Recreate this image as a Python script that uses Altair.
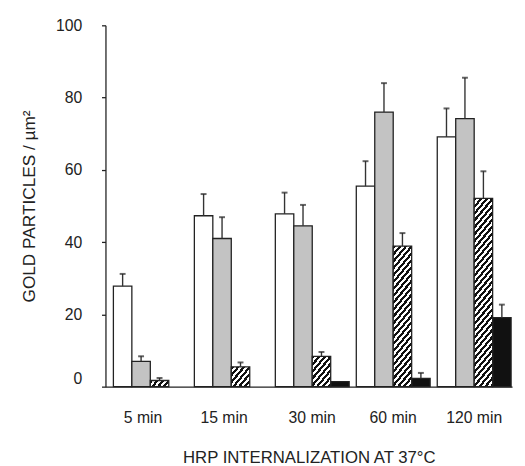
import math
import altair as alt
import pandas as pd

# ---------------- data ----------------
groups = ["5 min", "15 min", "30 min", "60 min", "120 min"]
series = ["open", "grey", "hatched", "solid"]

open_vals = [27.8, 47.3, 47.8, 55.5, 69.1]
open_err = [3.4, 6.0, 5.9, 6.9, 7.9]
grey_vals = [7.0, 41.0, 44.5, 76.0, 74.2]
grey_err = [1.4, 5.9, 5.8, 8.0, 11.3]
hatched_vals = [1.7, 5.5, 8.4, 38.9, 52.1]
hatched_err = [0.7, 1.2, 1.2, 3.6, 7.5]
solid_vals = [None, None, 1.4, 2.3, 19.1]
solid_err = [None, None, None, 1.5, 3.6]

y_ticks = [0, 20, 40, 60, 80, 100]

# ---------------- table ----------------
vals = {"open": open_vals, "grey": grey_vals, "hatched": hatched_vals, "solid": solid_vals}
errs = {"open": open_err, "grey": grey_err, "hatched": hatched_err, "solid": solid_err}
rows = []
for s in series:
    for g, v, e in zip(groups, vals[s], errs[s]):
        if v is not None:
            rows.append({"group": g, "series": s, "value": v, "err": e})
df = pd.DataFrame(rows)

# ---------------- styling ----------------
W, H = 413, 367
FONT = "Liberation Sans"
INK = "#222222"
fills = ["#ffffff", "#c3c3c3", "#ffffff", "#111111"]

P_INNER, P_OUTER, ALIGN = 0.088, 0.055, 0.89
step = W / (len(groups) - P_INNER + 2 * P_OUTER)
slot = step * (1 - P_INNER) / len(series)

# groups without a solid bar: centre their label on the three bars drawn
short_groups = [g for g, v in zip(groups, solid_vals) if v is None]
short_test = "indexof(" + str(short_groups).replace('"', "'") + ", datum.value) >= 0"


def hatch_fill(v, slope=1.2, period=7.0, dark=0.5):
    w = slot
    h = v * H / 100.0
    L = slope * w + h
    c = L / ((slope * w) ** 2 + h ** 2)
    stops = []
    k = 0
    p = period / L
    while k * p < 1:
        o0 = k * p
        o1 = min(1.0, o0 + dark * p)
        o2 = min(1.0, o0 + p)
        stops += [
            {"offset": o0, "color": "#111111"},
            {"offset": o1, "color": "#111111"},
            {"offset": o1, "color": "#ffffff"},
            {"offset": o2, "color": "#ffffff"},
        ]
        k += 1
    return {"gradient": "linear", "x1": 0, "y1": 0, "x2": c * slope * w, "y2": c * h, "stops": stops}


x_scale = alt.Scale(domain=groups, paddingInner=P_INNER, paddingOuter=P_OUTER, align=ALIGN)
off_scale = alt.Scale(domain=series, paddingInner=0, paddingOuter=0)
y_scale = alt.Scale(domain=[0, 100], nice=False, zero=True)

x_axis = alt.Axis(
    ticks=False, tickSize=0, domainColor=INK, domainWidth=1.3,
    labelFont=FONT, labelFontSize=16, labelColor=INK, labelPadding=23, labelAngle=0,
    labelOffset={"condition": {"test": short_test, "value": -slot / 2 + 2}, "value": 0},
    titleFont=FONT, titleFontSize=17, titleFontWeight="normal", titleColor=INK, titlePadding=25,
)
y_axis = alt.Axis(
    values=y_ticks, grid=False, tickSize=4, tickColor=INK, tickWidth=1.3,
    domainColor=INK, domainWidth=1.3,
    labelFont=FONT, labelFontSize=16, labelColor=INK, labelPadding=20,
    labelBaseline={"condition": {"test": "datum.value === 0", "value": "bottom"}, "value": "middle"},
    titleFont=FONT, titleFontSize=17.5, titleFontWeight="normal", titleColor=INK, titlePadding=17,
)

X = alt.X("group:N", scale=x_scale, axis=x_axis, title="HRP INTERNALIZATION AT 37°C")
XO = alt.XOffset("series:N", scale=off_scale)
Y = alt.Y("value:Q", scale=y_scale, axis=y_axis, title="GOLD PARTICLES / µm²")

base = alt.Chart(df)

bars = base.transform_filter("datum.series != 'hatched'").mark_bar(
    stroke=INK, strokeWidth=1.3
).encode(
    x=X, xOffset=XO, y=Y,
    fill=alt.Fill("series:N", scale=alt.Scale(domain=series, range=fills), legend=None),
)

layers = [bars]
for g, v in zip(groups, hatched_vals):
    layers.append(
        base.transform_filter(f"datum.series == 'hatched' && datum.group == '{g}'")
        .mark_bar(fill=hatch_fill(v), stroke=INK, strokeWidth=1.3)
        .encode(x=X, xOffset=XO, y=Y)
    )

err_base = base.transform_filter("isValid(datum.err)").transform_calculate(top="datum.value + datum.err")
rules = err_base.mark_rule(color="#333333", strokeWidth=1.4).encode(
    x=X, xOffset=XO, y=Y, y2="top:Q"
)
caps = err_base.mark_tick(orient="horizontal", size=6, thickness=2, color=INK).encode(
    x=X, xOffset=XO,
    y=alt.Y("top:Q", scale=y_scale, axis=y_axis, title="GOLD PARTICLES / µm²"),
)
layers += [rules, caps]

chart = alt.layer(*layers).properties(
    width=W, height=H,
    autosize="none",
    padding={"left": 99, "top": 14, "right": 5, "bottom": 77},
    background="white",
).configure_view(stroke=None)

chart.save("out.html", embed_options={"renderer": "svg", "actions": False})
